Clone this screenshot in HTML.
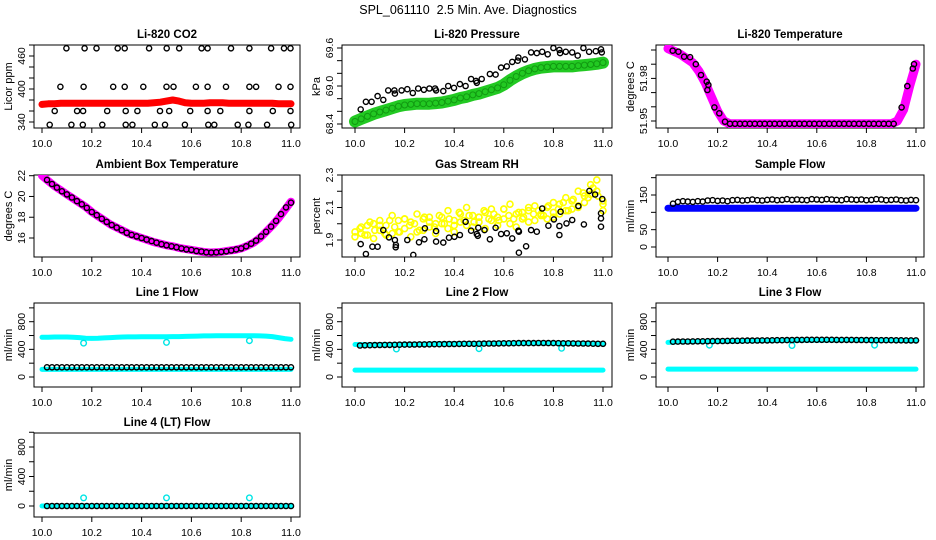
<!DOCTYPE html>
<html><head><meta charset="utf-8"><title>SPL_061110 Diagnostics</title>
<style>
html,body{margin:0;padding:0;background:#fff;}
svg{display:block;font-family:"Liberation Sans",Arial,sans-serif;}
</style></head>
<body>
<svg id="chart" width="936" height="540" viewBox="0 0 936 540">
<rect x="0" y="0" width="936" height="540" fill="#fff"/>
<text x="468" y="14" text-anchor="middle" font-size="12.5" style="white-space:pre">SPL_061110&#160; 2.5 Min. Ave. Diagnostics</text>
</svg>
<script>
// ---------- data ----------
const tDense = [10.000,10.025,10.050,10.075,10.100,10.125,10.150,10.175,10.200,10.225,10.250,10.275,10.300,10.325,10.350,10.375,10.400,10.425,10.450,10.475,10.500,10.525,10.550,10.575,10.600,10.625,10.650,10.675,10.700,10.725,10.750,10.775,10.800,10.825,10.850,10.875,10.900,10.925,10.950,10.975,11.000];
const tBlack = [10.02,10.04,10.06,10.08,10.10,10.12,10.14,10.16,10.18,10.20,10.22,10.24,10.26,10.28,10.30,10.32,10.34,10.36,10.38,10.40,10.42,10.44,10.46,10.48,10.50,10.52,10.54,10.56,10.58,10.60,10.62,10.64,10.66,10.68,10.70,10.72,10.74,10.76,10.78,10.80,10.82,10.84,10.86,10.88,10.90,10.92,10.94,10.96,10.98,11.00];
const xTicks = [10.0,10.2,10.4,10.6,10.8,11.0];
const xTickLabels = ["10.0","10.2","10.4","10.6","10.8","11.0"];
const outlierT = [10.167,10.5,10.833];

// CO2
const co2Red = [372,373,373,374,374,374,374,374,374,374,374,374,374,374,374,374,374,374,375,376,378,380,378,375,374,374,374,375,375,375,374,374,374,374,374,374,374,374,373,373,373];
const co2BlackT = [10.098,10.171,10.219,10.304,10.332,10.430,10.501,10.551,10.641,10.665,10.759,10.833,10.920,10.972,10.998,
 10.074,10.167,10.286,10.332,10.407,10.500,10.528,10.618,10.665,10.739,10.833,10.860,10.950,10.998,
 10.051,10.141,10.165,10.262,10.336,10.383,10.474,10.511,10.595,10.665,10.716,10.833,10.927,10.998,
 10.031,10.118,10.164,10.242,10.336,10.363,10.453,10.494,10.574,10.668,10.692,10.786,10.829,10.904,11.001];
const co2BlackV = [474,474,474,474,474,474,474,474,474,474,474,474,474,474,474,
 404,404,404,404,404,404,404,404,404,404,404,404,404,404,
 360,360,360,360,360,360,360,360,360,360,360,360,360,360,
 335,335,335,335,335,335,335,335,335,335,335,335,335,335,335];

// Pressure
const presGreen = [68.44,68.48,68.52,68.56,68.59,68.62,68.65,68.68,68.70,68.71,68.72,68.72,68.72,68.73,68.74,68.76,68.78,68.81,68.83,68.86,68.88,68.91,68.94,68.97,69.02,69.09,69.15,69.20,69.24,69.27,69.29,69.30,69.31,69.31,69.31,69.31,69.32,69.33,69.34,69.35,69.37];
const presBlackT = [10.023,10.044,10.067,10.091,10.114,10.134,10.159,10.161,10.188,10.211,10.233,10.255,10.278,10.300,10.323,10.327,10.356,10.376,10.399,10.423,10.446,10.468,10.488,10.491,10.511,10.544,10.567,10.589,10.612,10.634,10.656,10.659,10.685,10.710,10.733,10.755,10.777,10.800,10.824,10.827,10.850,10.876,10.898,10.921,10.944,10.971,10.992,10.995];
const presBlackV = [68.63,68.75,68.75,68.84,68.78,68.93,68.93,68.88,68.93,68.95,68.89,68.96,68.94,68.96,68.96,68.93,68.92,69.00,68.97,69.03,69.00,69.11,69.08,69.05,69.11,69.19,69.18,69.29,69.31,69.38,69.40,69.45,69.42,69.53,69.52,69.54,69.50,69.60,69.57,69.52,69.54,69.53,69.48,69.60,69.54,69.55,69.58,69.53];

// Li-820 temperature
const tempMag = [52.001,51.999,51.997,51.994,51.991,51.985,51.977,51.967,51.957,51.950,51.948,51.948,51.948,51.948,51.948,51.948,51.948,51.948,51.948,51.948,51.948,51.948,51.948,51.948,51.948,51.948,51.948,51.948,51.948,51.948,51.948,51.948,51.948,51.948,51.948,51.948,51.948,51.950,51.958,51.975,51.990];
const tempBlackT = [10.019,10.042,10.065,10.089,10.112,10.133,10.156,10.163,10.159,10.187,10.207,10.230,
 10.25,10.27,10.29,10.31,10.33,10.35,10.37,10.39,10.41,10.43,10.45,10.47,10.49,10.51,10.53,10.55,10.57,10.59,10.61,10.63,10.65,10.67,10.69,10.71,10.73,10.75,10.77,10.79,10.81,10.83,10.85,10.87,10.89,10.91,
 10.942,10.965,10.987,10.992];
const tempBlackV = [51.9995,51.9988,51.9953,51.9949,51.990,51.9824,51.9777,51.9754,51.9718,51.9596,51.9554,51.9495,
 51.948,51.948,51.948,51.948,51.948,51.948,51.948,51.948,51.948,51.948,51.948,51.948,51.948,51.948,51.948,51.948,51.948,51.948,51.948,51.948,51.948,51.948,51.948,51.948,51.948,51.948,51.948,51.948,51.948,51.948,51.948,51.948,51.948,51.948,
 51.9596,51.9746,51.987,51.990];

// Ambient box temperature
const ambMag = [22.0,21.5,21.0,20.6,20.2,19.8,19.4,19.0,18.5,18.1,17.7,17.3,17.0,16.7,16.4,16.2,16.0,15.8,15.6,15.45,15.3,15.2,15.05,14.95,14.85,14.75,14.65,14.6,14.62,14.68,14.78,14.85,15.0,15.25,15.55,16.0,16.6,17.2,17.9,18.7,19.5];
const ambBlack = [21.6,21.2,20.85,20.5,20.2,19.9,19.55,19.25,18.9,18.5,18.2,17.85,17.55,17.25,17.0,16.75,16.5,16.3,16.15,16.0,15.85,15.7,15.55,15.4,15.3,15.2,15.1,15.0,14.9,14.85,14.75,14.7,14.62,14.6,14.62,14.66,14.72,14.8,14.9,15.0,15.2,15.45,15.75,16.15,16.6,17.1,17.65,18.3,18.95,19.4];

// Gas stream RH
const rhYellowA = [1.95,1.98,1.93,2.00,1.96,1.99,1.94,2.02,1.97,2.01,1.95,2.03,1.98,2.00,2.04,1.97,2.02,2.06,1.99,2.05,2.01,2.07,2.02,2.04,2.09,2.00,2.06,2.03,2.08,2.02,2.06,2.10,2.04,2.12,2.08,2.14,2.10,2.17,2.24,2.20,2.12];
const rhYellowB = [1.92,1.94,1.99,1.91,2.02,1.93,2.05,1.95,2.03,1.92,2.06,1.96,2.04,1.94,2.00,2.08,1.95,2.01,2.10,1.98,2.04,1.97,2.09,1.99,2.03,2.12,1.98,2.07,2.01,2.11,2.05,2.03,2.13,2.06,2.16,2.09,2.20,2.13,2.18,2.27,2.08];
const rhYellowC = [1.97,1.93,2.01,1.96,1.99,1.94,2.02,1.98,1.95,2.03,1.99,2.00,1.96,2.04,2.01,1.98,2.05,2.00,2.03,1.99,2.07,2.02,2.05,2.01,2.04,2.08,2.03,2.06,2.02,2.09,2.05,2.03,2.07,2.04,2.10,2.06,2.08,2.05,2.11,2.07,2.09,2.13,2.08,2.15,2.11,2.19,2.16,2.22,2.17,2.14];
const rhBlackT = [10.023,10.044,10.070,10.091,10.114,10.137,10.161,10.164,10.165,10.211,10.235,10.258,10.280,10.282,10.327,10.327,10.356,10.379,10.401,10.423,10.446,10.468,10.491,10.495,10.497,10.522,10.544,10.567,10.589,10.612,10.634,10.659,10.661,10.661,10.690,10.710,10.733,10.755,10.780,10.802,10.824,10.824,10.829,10.853,10.876,10.901,10.923,10.945,10.968,10.992,10.992,10.992,10.997];
const rhBlackV = [1.875,1.814,1.859,1.859,1.961,1.916,1.900,1.855,1.869,1.900,1.808,1.886,1.904,1.972,1.955,1.890,1.884,1.914,1.920,1.931,2.012,1.957,1.937,1.926,1.975,1.961,1.904,1.975,1.937,1.941,1.910,1.957,1.951,1.822,1.861,1.961,1.951,2.094,1.988,2.027,1.986,1.931,2.074,2.002,2.023,2.109,1.996,2.202,2.180,2.064,2.033,1.982,2.152];

// Sample flow
const sampleBlue = [112,112,112,112,112,112,112,112,112,112,112,112,112,112,112,112,112,112,112,112,112,112,112,112,112,112,112,112,112,112,112,112,112,112,112,112,112,112,112,112,112];
const sampleBlack = [125,130,132,131,130,132,131,134,135,133,134,132,135,136,134,135,137,135,134,136,137,135,136,138,136,137,136,135,138,137,136,138,137,136,135,138,137,136,137,135,136,138,137,135,136,137,135,134,136,135];

// Line flows
const line1Upper = [575,575,578,578,578,576,570,562,558,560,565,570,575,578,580,580,582,582,582,583,583,584,585,588,590,592,594,595,596,597,598,598,598,598,597,595,592,585,570,555,545];
const line1Lower = [110,110,110,110,110,110,110,110,110,110,110,110,110,110,110,110,110,110,110,110,110,110,110,110,110,110,110,110,110,110,110,110,110,110,110,110,110,110,110,110,110];
const line1Black = [140,140,140,140,140,140,140,140,140,140,140,140,140,140,140,140,140,140,140,140,140,140,140,140,140,140,140,140,140,140,140,140,140,140,140,140,140,140,140,140,140,140,140,140,140,140,140,140,140,140];
const line1Out = [490,500,525];
const line2Upper = [470,468,466,466,468,470,470,472,472,474,475,476,478,480,480,482,482,483,484,484,485,486,486,487,488,488,489,490,490,490,490,490,490,489,488,487,486,485,484,482,480];
const line2Lower = [100,100,100,100,100,100,100,100,100,100,100,100,100,100,100,100,100,100,100,100,100,100,100,100,100,100,100,100,100,100,100,100,100,100,100,100,100,100,100,100,100];
const line2Black = [455,458,460,462,463,464,465,466,467,468,469,470,471,472,473,474,475,476,477,478,479,480,480,481,482,483,484,485,486,487,488,489,490,490,491,491,492,492,491,490,489,488,487,486,485,484,483,482,481,480];
const line2Out = [405,410,415];
const line3Upper = [500,505,510,510,512,512,514,515,516,516,518,520,522,524,525,526,526,527,528,529,530,530,531,532,532,533,534,534,535,535,535,535,535,534,534,533,532,530,528,526,525];
const line3Lower = [115,115,115,115,115,115,115,115,115,115,115,115,115,115,115,115,115,115,115,115,115,115,115,115,115,115,115,115,115,115,115,115,115,115,115,115,115,115,115,115,115];
const line3Black = [510,512,513,514,515,516,517,518,519,520,521,522,523,524,525,526,527,528,529,530,531,532,533,534,535,536,537,538,538,538,538,538,538,537,537,536,536,535,535,534,534,533,533,532,532,531,531,530,530,530];
const line3Out = [460,455,460];
const line4Cyan = [0,0,0,0,0,0,0,0,0,0,0,0,0,0,0,0,0,0,0,0,0,0,0,0,0,0,0,0,0,0,0,0,0,0,0,0,0,0,0,0,0];
const line4Black = [0,0,0,0,0,0,0,0,0,0,0,0,0,0,0,0,0,0,0,0,0,0,0,0,0,0,0,0,0,0,0,0,0,0,0,0,0,0,0,0,0,0,0,0,0,0,0,0,0,0];
const line4Out = [110,110,110];

// ---------- drawing ----------
const NS = "http://www.w3.org/2000/svg";
const svg = document.getElementById('chart');
function mk(tag, attrs, parent){
  const e = document.createElementNS(NS, tag);
  for (const k in attrs) e.setAttribute(k, attrs[k]);
  (parent || svg).appendChild(e);
  return e;
}

function panel(cfg){
  const g = mk('g', {});
  
  
  const X = t => cfg.x0 + (t - 10) * (cfg.x1 - cfg.x0);
  const Y = v => cfg.p1 + (v - cfg.v1) * (cfg.p2 - cfg.p1) / (cfg.v2 - cfg.v1);
  const [L, T, R, B] = cfg.box;
  const box = mk('rect', {x: L, y: T, width: R - L, height: B - T, fill: 'none', stroke: '#000', 'stroke-width': 1}, g);
  
  
  const title = mk('text', {x: (L + R) / 2, y: T - 7, 'text-anchor': 'middle', 'font-size': 11.5, 'font-weight': 'bold'}, g);
  title.textContent = cfg.title;
  
  
  const xa = mk('g', {}, g);
  
  
  mk('line', {x1: X(xTicks[0]), x2: X(xTicks[xTicks.length - 1]), y1: B, y2: B, stroke: '#000'}, xa);
  xTicks.forEach((t, i) => {
    mk('line', {x1: X(t), x2: X(t), y1: B, y2: B + 5, stroke: '#000'}, xa);
    const lb = mk('text', {x: X(t), y: B + 19, 'text-anchor': 'middle', 'font-size': 10.5}, xa);
    lb.textContent = xTickLabels[i];
    
    
  });
  const ya = mk('g', {}, g);
  
  
  const yt = cfg.yTicks;
  mk('line', {x1: L, x2: L, y1: Y(yt[0]), y2: Y(yt[yt.length - 1]), stroke: '#000'}, ya);
  yt.forEach(v => mk('line', {x1: L - 5, x2: L, y1: Y(v), y2: Y(v), stroke: '#000'}, ya));
  cfg.yLabels.forEach((v, i) => {
    const yy = Y(v), xx = L - 9;
    const lb = mk('text', {x: xx, y: yy, 'text-anchor': 'middle', 'font-size': 10.5, transform: `rotate(-90 ${xx} ${yy})`}, ya);
    lb.textContent = cfg.yLabelText[i];
    
    
  });
  const yx = L - 22, yy = (T + B) / 2;
  const yl = mk('text', {x: yx, y: yy, 'text-anchor': 'middle', 'font-size': 11, transform: `rotate(-90 ${yx} ${yy})`}, g);
  yl.textContent = cfg.ylab;
  
  
  const clipId = 'clip-' + cfg.name;
  const cp = mk('clipPath', {id: clipId}, g);
  mk('rect', {x: L, y: T, width: R - L, height: B - T}, cp);
  const plot = mk('g', {'clip-path': `url(#${clipId})`}, g);
  
  
  return {X, Y, g: plot};
}

function band(p, ts, vs, color, w, name){
  const pts = ts.map((t, i) => p.X(t).toFixed(1) + ',' + p.Y(vs[i]).toFixed(1)).join(' ');
  const pl = mk('polyline', {points: pts, fill: 'none', stroke: color, 'stroke-width': w, 'stroke-linejoin': 'round', 'stroke-linecap': 'round'}, p.g);
  
  
}
function circles(p, ts, vs, color, r, sw, name){
  const gg = mk('g', {}, p.g);
  
  
  ts.forEach((t, i) => {
    const c = mk('circle', {cx: p.X(t).toFixed(1), cy: p.Y(vs[i]).toFixed(1), r: r, fill: 'none', stroke: color, 'stroke-width': sw}, gg);
    
    
  });
}

const C1 = {L: 34, R: 300, x0: 42, x1: 291};
const C2 = {L: 342, R: 612, x0: 355, x1: 603};
const C3 = {L: 656, R: 924, x0: 668, x1: 916};
const R1 = [45, 128], R2 = [175, 257], R3 = [303, 387], R4 = [433, 517];
function cfgOf(C, Rw, extra){
  return Object.assign({box: [C.L, Rw[0], C.R, Rw[1]], x0: C.x0, x1: C.x1}, extra);
}

let p = panel(cfgOf(C1, R1, {name: 'co2', title: 'Li-820 CO2', ylab: 'Licor ppm', v1: 340, p1: 122, v2: 400, p2: 89,
  yTicks: [340,360,380,400,420,440,460,480], yLabels: [340,400,460], yLabelText: ['340','400','460']}));
band(p, tDense, co2Red, '#ff0000', 7, 'co2-red-series');
circles(p, tDense, co2Red, '#ff0000', 2.5, 1.5, 'co2-red-markers');
circles(p, co2BlackT, co2BlackV, '#000', 2.6, 1.4, 'co2-black-series');

p = panel(cfgOf(C2, R1, {name: 'pressure', title: 'Li-820 Pressure', ylab: 'kPa', v1: 68.4, p1: 124, v2: 69.6, p2: 48,
  yTicks: [68.4,68.6,68.8,69.0,69.2,69.4,69.6], yLabels: [68.4,69.0,69.6], yLabelText: ['68.4','69.0','69.6']}));
band(p, tDense, presGreen, '#22c922', 12, 'pressure-green-series');
circles(p, tDense, presGreen, '#119911', 3, 1, 'pressure-green-markers');
circles(p, presBlackT, presBlackV, '#000', 2.6, 1.4, 'pressure-black-series');

p = panel(cfgOf(C3, R1, {name: 'li820-temp', title: 'Li-820 Temperature', ylab: 'degrees C', v1: 51.95, p1: 121, v2: 52.00, p2: 50,
  yTicks: [51.95,51.96,51.97,51.98,51.99,52.00], yLabels: [51.95,51.98], yLabelText: ['51.95','51.98']}));
band(p, tDense, tempMag, '#ff00ff', 9, 'li820-temp-magenta-series');
circles(p, tDense, tempMag, '#ff00ff', 3, 1.5, 'li820-temp-magenta-markers');
circles(p, tempBlackT, tempBlackV, '#000', 2.6, 1.4, 'li820-temp-black-series');

p = panel(cfgOf(C1, R2, {name: 'ambient', title: 'Ambient Box Temperature', ylab: 'degrees C', v1: 16, p1: 238, v2: 22, p2: 175.7,
  yTicks: [16,18,20,22], yLabels: [16,18,20,22], yLabelText: ['16','18','20','22']}));
band(p, tDense, ambMag, '#ff00ff', 8, 'ambient-magenta-series');
circles(p, tBlack, ambBlack, '#000', 2.6, 1.4, 'ambient-black-series');

p = panel(cfgOf(C2, R2, {name: 'rh', title: 'Gas Stream RH', ylab: 'percent', v1: 1.9, p1: 240, v2: 2.3, p2: 175,
  yTicks: [1.9,2.0,2.1,2.2,2.3], yLabels: [1.9,2.1,2.3], yLabelText: ['1.9','2.1','2.3']}));
circles(p, tDense, rhYellowA, '#ffff00', 3, 1.6, 'rh-yellow-series-a');
circles(p, tDense, rhYellowB, '#ffff00', 3, 1.6, 'rh-yellow-series-b');
circles(p, tBlack, rhYellowC, '#ffff00', 3, 1.6, 'rh-yellow-series-c');
circles(p, rhBlackT, rhBlackV, '#000', 2.6, 1.4, 'rh-black-series');

p = panel(cfgOf(C3, R2, {name: 'sample-flow', title: 'Sample Flow', ylab: 'ml/min', v1: 0, p1: 247, v2: 150, p2: 195,
  yTicks: [0,50,100,150,200], yLabels: [0,50,150], yLabelText: ['0','50','150']}));
band(p, tDense, sampleBlue, '#0000ff', 7, 'sample-flow-blue-series');
circles(p, tBlack, sampleBlack, '#000', 2.6, 1.4, 'sample-flow-black-series');

const flowTicks = [0,200,400,600,800,1000];
p = panel(cfgOf(C1, R3, {name: 'line1', title: 'Line 1 Flow', ylab: 'ml/min', v1: 0, p1: 377, v2: 800, p2: 321.7,
  yTicks: flowTicks, yLabels: [0,400,800], yLabelText: ['0','400','800']}));
band(p, tDense, line1Upper, '#00ffff', 5, 'line1-cyan-upper');
band(p, tDense, line1Lower, '#00ffff', 5, 'line1-cyan-lower');
circles(p, outlierT, line1Out, '#00e5e5', 2.8, 1.4, 'line1-cyan-outliers');
circles(p, tBlack, line1Black, '#000', 2.6, 1.4, 'line1-black-series');

p = panel(cfgOf(C2, R3, {name: 'line2', title: 'Line 2 Flow', ylab: 'ml/min', v1: 0, p1: 377, v2: 800, p2: 321.7,
  yTicks: flowTicks, yLabels: [0,400,800], yLabelText: ['0','400','800']}));
band(p, tDense, line2Upper, '#00ffff', 5, 'line2-cyan-upper');
band(p, tDense, line2Lower, '#00ffff', 5, 'line2-cyan-lower');
circles(p, outlierT, line2Out, '#00e5e5', 2.8, 1.4, 'line2-cyan-outliers');
circles(p, tBlack, line2Black, '#000', 2.6, 1.4, 'line2-black-series');

p = panel(cfgOf(C3, R3, {name: 'line3', title: 'Line 3 Flow', ylab: 'ml/min', v1: 0, p1: 377, v2: 800, p2: 321.7,
  yTicks: flowTicks, yLabels: [0,400,800], yLabelText: ['0','400','800']}));
band(p, tDense, line3Upper, '#00ffff', 5, 'line3-cyan-upper');
band(p, tDense, line3Lower, '#00ffff', 5, 'line3-cyan-lower');
circles(p, outlierT, line3Out, '#00e5e5', 2.8, 1.4, 'line3-cyan-outliers');
circles(p, tBlack, line3Black, '#000', 2.6, 1.4, 'line3-black-series');

p = panel(cfgOf(C1, R4, {name: 'line4', title: 'Line 4 (LT) Flow', ylab: 'ml/min', v1: 0, p1: 506, v2: 800, p2: 447,
  yTicks: flowTicks, yLabels: [0,400,800], yLabelText: ['0','400','800']}));
band(p, tDense, line4Cyan, '#00ffff', 5, 'line4-cyan-series');
circles(p, outlierT, line4Out, '#00e5e5', 2.8, 1.4, 'line4-cyan-outliers');
circles(p, tBlack, line4Black, '#000', 2.6, 1.4, 'line4-black-series');
</script>
</body></html>
